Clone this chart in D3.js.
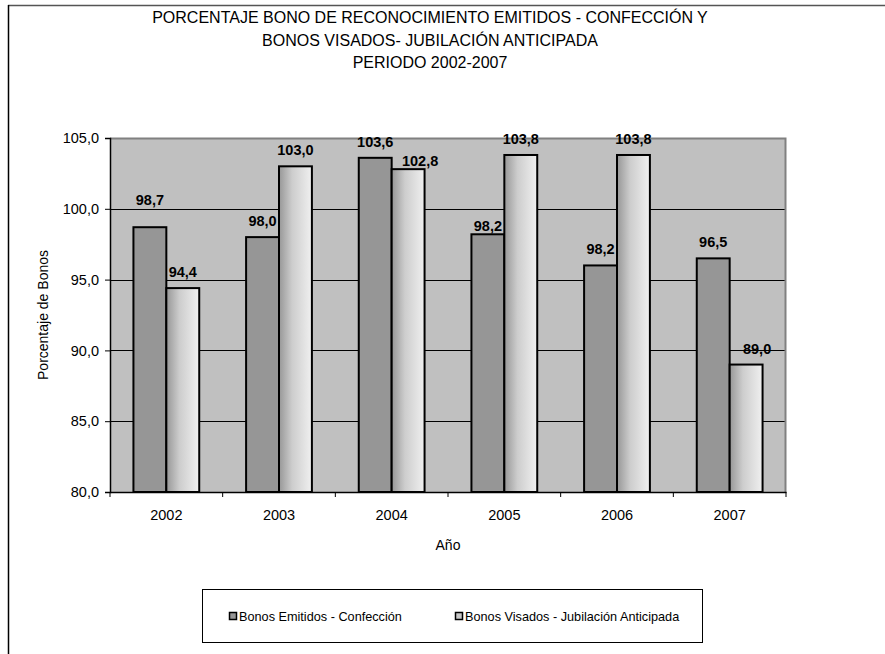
<!DOCTYPE html>
<html>
<head>
<meta charset="utf-8">
<script src="https://cdn.jsdelivr.net/npm/d3@7"></script>
<style>
  body { margin: 0; background: #fff; }
  svg { font-family: "Liberation Sans", Arial, sans-serif; }
</style>
</head>
<body>
<div id="chart"></div>
<script>
// data
var years = ["2002", "2003", "2004", "2005", "2006", "2007"];
var emitidos = [98.7, 98.0, 103.6, 98.2, 96.0, 96.5];
var visados = [94.4, 103.0, 102.8, 103.8, 103.8, 89.0];
var emitidosLabels = ["98,7", "98,0", "103,6", "98,2", "98,2", "96,5"];
var visadosLabels = ["94,4", "103,0", "102,8", "103,8", "103,8", "89,0"];
var seriesNames = ["Bonos Emitidos - Confección", "Bonos Visados - Jubilación Anticipada"];
var yTicks = [80, 85, 90, 95, 100, 105];
var titleLines = ["PORCENTAJE BONO DE RECONOCIMIENTO EMITIDOS - CONFECCIÓN Y",
                  "BONOS VISADOS- JUBILACIÓN ANTICIPADA",
                  "PERIODO 2002-2007"];

var W = 885, H = 654;
var plot = {left: 110, right: 786, top: 138, bottom: 492};

var svg = d3.select("#chart")
  .append("svg")
    .attr("width", W)
    .attr("height", H);

// gradient for the light bars
var defs = svg.append("defs");
var grad = defs.append("linearGradient")
    .attr("id", "lightGrad")
    .attr("x1", "0%").attr("x2", "100%").attr("y1", "0%").attr("y2", "0%");
grad.append("stop").attr("offset", "0%").attr("stop-color", "#979797");
grad.append("stop").attr("offset", "40%").attr("stop-color", "#cdcdcd");
grad.append("stop").attr("offset", "100%").attr("stop-color", "#f0f0f0");

// outer frame (top and left only visible)
svg.append("line").attr("x1", 8).attr("x2", W).attr("y1", 5.5).attr("y2", 5.5)
  .attr("stroke", "#555").attr("stroke-width", 1.5);
svg.append("line").attr("x1", 8.5).attr("x2", 8.5).attr("y1", 5).attr("y2", H)
  .attr("stroke", "#000").attr("stroke-width", 1.5);

// title
svg.append("g").selectAll("text")
  .data(titleLines)
  .enter()
  .append("text")
    .attr("x", 430)
    .attr("y", function (d, i) { return 23 + i * 22.5; })
    .attr("text-anchor", "middle")
    .style("font-size", "16px")
    .text(function (d) { return d; });

// scales
var x = d3.scaleBand()
  .domain(years)
  .range([plot.left, plot.right]);

var y = d3.scaleLinear()
  .domain([80, 105])
  .range([plot.bottom, plot.top]);

var barW = x.bandwidth() * 0.292;

// plot background
svg.append("rect")
  .attr("x", plot.left).attr("y", plot.top)
  .attr("width", plot.right - plot.left).attr("height", plot.bottom - plot.top)
  .attr("fill", "#c0c0c0");

// gridlines
svg.append("g").selectAll("line")
  .data(yTicks.filter(function (t) { return t > 80 && t < 105; }))
  .enter()
  .append("line")
    .attr("x1", plot.left).attr("x2", plot.right)
    .attr("y1", function (d) { return Math.round(y(d)) + 0.5; })
    .attr("y2", function (d) { return Math.round(y(d)) + 0.5; })
    .attr("stroke", "#000").attr("stroke-width", 1);

// plot border top & right (gray)
svg.append("path")
  .attr("d", "M" + plot.left + "," + (plot.top + 0.5) + "H" + (plot.right - 0.5) + "V" + plot.bottom)
  .attr("fill", "none").attr("stroke", "#808080").attr("stroke-width", 2);

// bars
var bars = svg.append("g");
bars.selectAll("rect.emit")
  .data(emitidos)
  .enter()
  .append("rect")
    .attr("class", "emit")
    .attr("x", function (d, i) { return x(years[i]) + x.bandwidth() / 2 - barW; })
    .attr("y", function (d) { return y(d); })
    .attr("width", barW)
    .attr("height", function (d) { return y(80) - y(d); })
    .attr("fill", "#969696")
    .attr("stroke", "#000").attr("stroke-width", 2);

bars.selectAll("rect.vis")
  .data(visados)
  .enter()
  .append("rect")
    .attr("class", "vis")
    .attr("x", function (d, i) { return x(years[i]) + x.bandwidth() / 2; })
    .attr("y", function (d) { return y(d); })
    .attr("width", barW)
    .attr("height", function (d) { return y(80) - y(d); })
    .attr("fill", "url(#lightGrad)")
    .attr("stroke", "#000").attr("stroke-width", 2);

// value labels (a few were nudged by hand in the original)
var nudgeEmit = [[0, -11], [0, 0], [0, 0], [0, 8], [0, 0], [0, 0]];
var nudgeVis = [[0, 0], [0, 0], [12, 8], [0, 0], [0, 0], [11, 0]];

var labels = svg.append("g")
  .style("font-size", "14.5px")
  .style("font-weight", "bold")
  .attr("text-anchor", "middle");

labels.selectAll("text.emit")
  .data(emitidos)
  .enter()
  .append("text")
    .attr("x", function (d, i) { return x(years[i]) + x.bandwidth() / 2 - barW / 2 + nudgeEmit[i][0]; })
    .attr("y", function (d, i) { return y(d) - 11 + nudgeEmit[i][1]; })
    .text(function (d, i) { return emitidosLabels[i]; });

labels.selectAll("text.vis")
  .data(visados)
  .enter()
  .append("text")
    .attr("x", function (d, i) { return x(years[i]) + x.bandwidth() / 2 + barW / 2 + nudgeVis[i][0]; })
    .attr("y", function (d, i) { return y(d) - 11 + nudgeVis[i][1]; })
    .text(function (d, i) { return visadosLabels[i]; });

// Y axis
var yAxis = svg.append("g")
  .attr("transform", "translate(" + plot.left + ",0)")
  .call(d3.axisLeft(y).tickValues(yTicks).tickSize(5).tickPadding(6)
    .tickFormat(function (d) { return d3.format(".1f")(d).replace(".", ","); }));
yAxis.select(".domain").attr("stroke", "#000").attr("stroke-width", 1.5);
yAxis.selectAll("text").style("font-size", "14.5px").attr("fill", "#000")
  .style("font-family", "'Liberation Sans', Arial, sans-serif");

// X axis
var xAxis = svg.append("g")
  .attr("transform", "translate(0," + plot.bottom + ")")
  .call(d3.axisBottom(x).tickSize(0).tickPadding(18));
xAxis.select(".domain").attr("stroke", "#000").attr("stroke-width", 1.5);
xAxis.selectAll("text").style("font-size", "14.5px").attr("fill", "#000")
  .style("font-family", "'Liberation Sans', Arial, sans-serif");
// category separators ticks
xAxis.selectAll("line.sep")
  .data(d3.range(years.length + 1))
  .enter()
  .append("line")
    .attr("class", "sep")
    .attr("x1", function (d) { return plot.left + d * x.step(); })
    .attr("x2", function (d) { return plot.left + d * x.step(); })
    .attr("y1", 0).attr("y2", 5)
    .attr("stroke", "#000");

// axis titles
svg.append("text")
  .attr("x", (plot.left + plot.right) / 2)
  .attr("y", 550)
  .attr("text-anchor", "middle")
  .style("font-size", "14px")
  .text("Año");

svg.append("text")
  .attr("transform", "translate(48," + ((plot.top + plot.bottom) / 2) + ") rotate(-90)")
  .attr("text-anchor", "middle")
  .style("font-size", "14px")
  .text("Porcentaje de Bonos");

// legend
var legend = svg.append("g");
legend.append("rect")
  .attr("x", 202.5).attr("y", 589.5).attr("width", 500).attr("height", 53)
  .attr("fill", "#fff").attr("stroke", "#000");

var legendX = [229, 455];
var legendFill = ["#969696", "#c8c8c8"];
var items = legend.selectAll("g.item")
  .data(seriesNames)
  .enter()
  .append("g")
    .attr("class", "item")
    .attr("transform", function (d, i) { return "translate(" + legendX[i] + ",616)"; });
items.append("rect")
  .attr("x", 0.5).attr("y", -3.5).attr("width", 7).attr("height", 7)
  .attr("fill", function (d, i) { return legendFill[i]; })
  .attr("stroke", "#000").attr("stroke-width", 1.5);
items.append("text")
  .attr("x", 10)
  .attr("y", 4.5)
  .style("font-size", "12.7px")
  .text(function (d) { return d; });
</script>
</body>
</html>
